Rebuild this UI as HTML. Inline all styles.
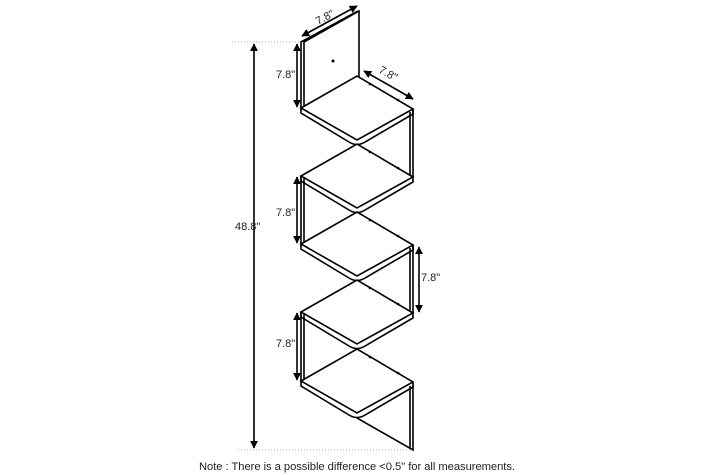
<!DOCTYPE html>
<html><head><meta charset="utf-8"><style>
html,body{margin:0;padding:0;background:#fff;}
svg{display:block;}
text{font-family:"Liberation Sans",sans-serif;fill:#222;}
</style></head><body>
<svg width="713" height="475" viewBox="0 0 713 475" xmlns="http://www.w3.org/2000/svg">
<defs>
<marker id="a" viewBox="0 0 10 10" refX="9" refY="5" markerWidth="5" markerHeight="5" orient="auto-start-reverse"><path d="M0,0 L10,5 L0,10 z" fill="#000"/></marker>
<g id="sh">
<path d="M301,0 L357,-32 L413,1 L357,32 Z" fill="#fff" stroke="#000" stroke-width="1.6"/>
<path d="M301,0 L301,5 L349,34 Q357,39 365,34 L413,6 L413,1" fill="none" stroke="#000" stroke-width="1.6"/>
<circle cx="370" cy="-24" r="1.3"/><circle cx="398" cy="-8" r="1.3"/>
</g>
</defs>
<g stroke="#000" stroke-width="1.6" fill="none">
<!-- top back panel -->
<path d="M301,108 L301,42 L356,12 L359,11 L359,77"/>
<path d="M304,108 L304,42 L359,11"/>
<!-- right panels -->
<path d="M413,110 L413,177 M410,112 L410,175"/>
<path d="M413,246 L413,313 M410,248 L410,311"/>
<!-- left panels -->
<path d="M301,176 L301,244 M304,178 L304,244"/>
<path d="M301,312 L301,381 M304,314 L304,381"/>
<!-- bottom panel -->
<path d="M413,385 L413,450 L357,418 M410,386 L410,448"/>
</g>
<circle cx="333" cy="61" r="1.5"/>
<use href="#sh" transform="translate(0,108)"/>
<use href="#sh" transform="translate(0,176)"/>
<use href="#sh" transform="translate(0,244)"/>
<use href="#sh" transform="translate(0,312)"/>
<use href="#sh" transform="translate(0,381)"/>
<!-- dims -->
<g stroke="#aaa" stroke-width="1" stroke-dasharray="1,2">
<line x1="232" y1="42" x2="300" y2="42"/>
<line x1="238" y1="450" x2="412" y2="450"/>
</g>
<g stroke="#000" stroke-width="1.6" marker-start="url(#a)" marker-end="url(#a)">
<line x1="254" y1="44" x2="254" y2="448"/>
<line x1="297" y1="44" x2="297" y2="107"/>
<line x1="297" y1="177" x2="297" y2="243"/>
<line x1="297" y1="313" x2="297" y2="380"/>
<line x1="419" y1="247" x2="419" y2="312"/>
<line x1="302" y1="36" x2="357" y2="6"/>
<line x1="364" y1="71" x2="413" y2="99"/>
</g>
<g font-size="11">
<text x="235" y="230">48.8"</text>
<text x="276" y="78">7.8"</text>
<text x="276" y="216">7.8"</text>
<text x="276" y="347">7.8"</text>
<text x="421" y="281">7.8"</text>
<text x="0" y="0" transform="translate(318,25) rotate(-28)">7.8"</text>
<text x="0" y="0" transform="translate(378,72) rotate(29)">7.8"</text>
</g>
<text x="199" y="470" font-size="11.2" textLength="316">Note : There is a possible difference &lt;0.5" for all measurements.</text>
</svg>
</body></html>
